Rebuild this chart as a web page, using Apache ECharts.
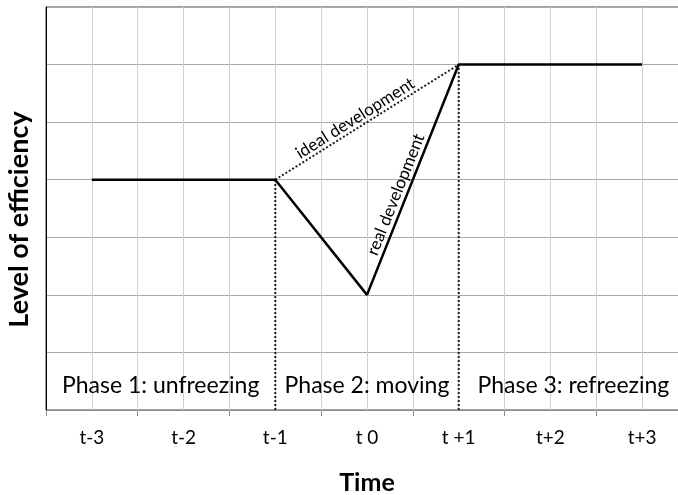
<!DOCTYPE html>
<html>
<head>
<meta charset="utf-8">
<script src="https://cdn.jsdelivr.net/npm/echarts@6/dist/echarts.min.js"></script>
<style>
html,body{margin:0;padding:0;background:#fff;}
#c{width:678px;height:495px;}
</style>
</head>
<body>
<div id="c"></div>
<script>
var categories = ['t-3', 't-2', 't-1', 't 0', 't +1', 't+2', 't+3'];
var realValues = [4, 4, 4, 2, 6, 6, 6];
var idealSegment = [['t-1', 4], ['t +1', 6]];
var realLabelSegment = [['t 0', 2], ['t +1', 6]];
var divider1 = [['t-1', 0], ['t-1', 4]];
var divider2 = [['t +1', 0], ['t +1', 6]];
var phaseLabels = ['Phase 1: unfreezing', 'Phase 2: moving', 'Phase 3: refreezing'];
var phasePositions = [[0.75, 0.43], [3, 0.43], [5.25, 0.43]];

var FONT = 'Lato, "Open Sans", sans-serif';
var chart = echarts.init(document.getElementById('c'));
chart.setOption({
  animation: false,
  backgroundColor: '#fff',
  grid: { left: 46, right: -10, top: 7, bottom: 85, show: true, borderColor: '#404040', borderWidth: 1, outerBoundsMode: 'none', containLabel: false },
  xAxis: [{
    type: 'category',
    data: categories,
    boundaryGap: true,
    axisLine: { lineStyle: { color: '#8c8c8c', width: 1 } },
    axisTick: { show: true, length: 6, lineStyle: { color: '#8c8c8c' } },
    axisLabel: { color: '#000', fontSize: 19, fontFamily: FONT, margin: 18 },
    splitLine: { show: false },
    name: 'Time',
    nameLocation: 'middle',
    nameGap: 60,
    nameTextStyle: { fontSize: 25, fontWeight: 'bold', color: '#000', fontFamily: FONT }
  }, {
    type: 'value',
    min: -0.5, max: 6.5, interval: 0.5,
    position: 'bottom',
    axisLine: { show: false }, axisTick: { show: false }, axisLabel: { show: false },
    splitLine: { show: true, lineStyle: { color: '#d0d0d0', width: 1 } }
  }],
  yAxis: {
    type: 'value', min: 0, max: 7, interval: 1,
    axisLine: { show: true, onZero: false, lineStyle: { color: '#000', width: 1 } },
    axisTick: { show: false },
    axisLabel: { show: false },
    splitLine: { show: true, lineStyle: { color: '#a8a8a8', width: 1 } },
    name: 'Level of efficiency',
    nameLocation: 'middle',
    nameGap: 13,
    nameTextStyle: { fontSize: 27, fontWeight: 'bold', color: '#000', fontFamily: FONT, padding: [0, 0, 0, -22] }
  },
  series: [{
    type: 'line', data: divider1, xAxisIndex: 0, symbol: 'none', z: 3,
    lineStyle: { color: '#222', width: 2, type: [2, 2] }
  }, {
    type: 'line', data: divider2, xAxisIndex: 0, symbol: 'none', z: 3,
    lineStyle: { color: '#222', width: 2, type: [2, 2] }
  }, {
    type: 'line', data: idealSegment, xAxisIndex: 0, symbol: 'none', z: 4,
    lineStyle: { color: '#222', width: 2, type: [2, 2] },
    markLine: {
      silent: true, symbol: 'none',
      lineStyle: { color: 'rgba(0,0,0,0)', width: 0 },
      label: { show: true, position: 'insideMiddleTop', formatter: 'ideal development', color: '#000', fontSize: 17, fontFamily: FONT, distance: 1, padding: [0, 16, 0, 0] },
      data: [[{ coord: idealSegment[0] }, { coord: idealSegment[1] }]]
    }
  }, {
    type: 'line', data: realValues, xAxisIndex: 0, symbol: 'none', z: 5,
    lineStyle: { color: '#000', width: 2.5 },
    markLine: {
      silent: true, symbol: 'none',
      lineStyle: { color: 'rgba(0,0,0,0)', width: 0 },
      label: { show: true, position: 'insideMiddleTop', formatter: 'real development', color: '#000', fontSize: 17, fontFamily: FONT, distance: 2, padding: [0, 40, 0, 0] },
      data: [[{ coord: realLabelSegment[0] }, { coord: realLabelSegment[1] }]]
    }
  }, {
    type: 'scatter', xAxisIndex: 1, data: phasePositions, symbolSize: 1,
    itemStyle: { color: 'rgba(0,0,0,0)', opacity: 1 },
    label: {
      show: true, position: 'inside', opacity: 1,
      formatter: function (p) { return phaseLabels[p.dataIndex]; },
      color: '#000', textBorderWidth: 0, fontSize: 23, fontFamily: FONT
    }
  }]
});
</script>
</body>
</html>
